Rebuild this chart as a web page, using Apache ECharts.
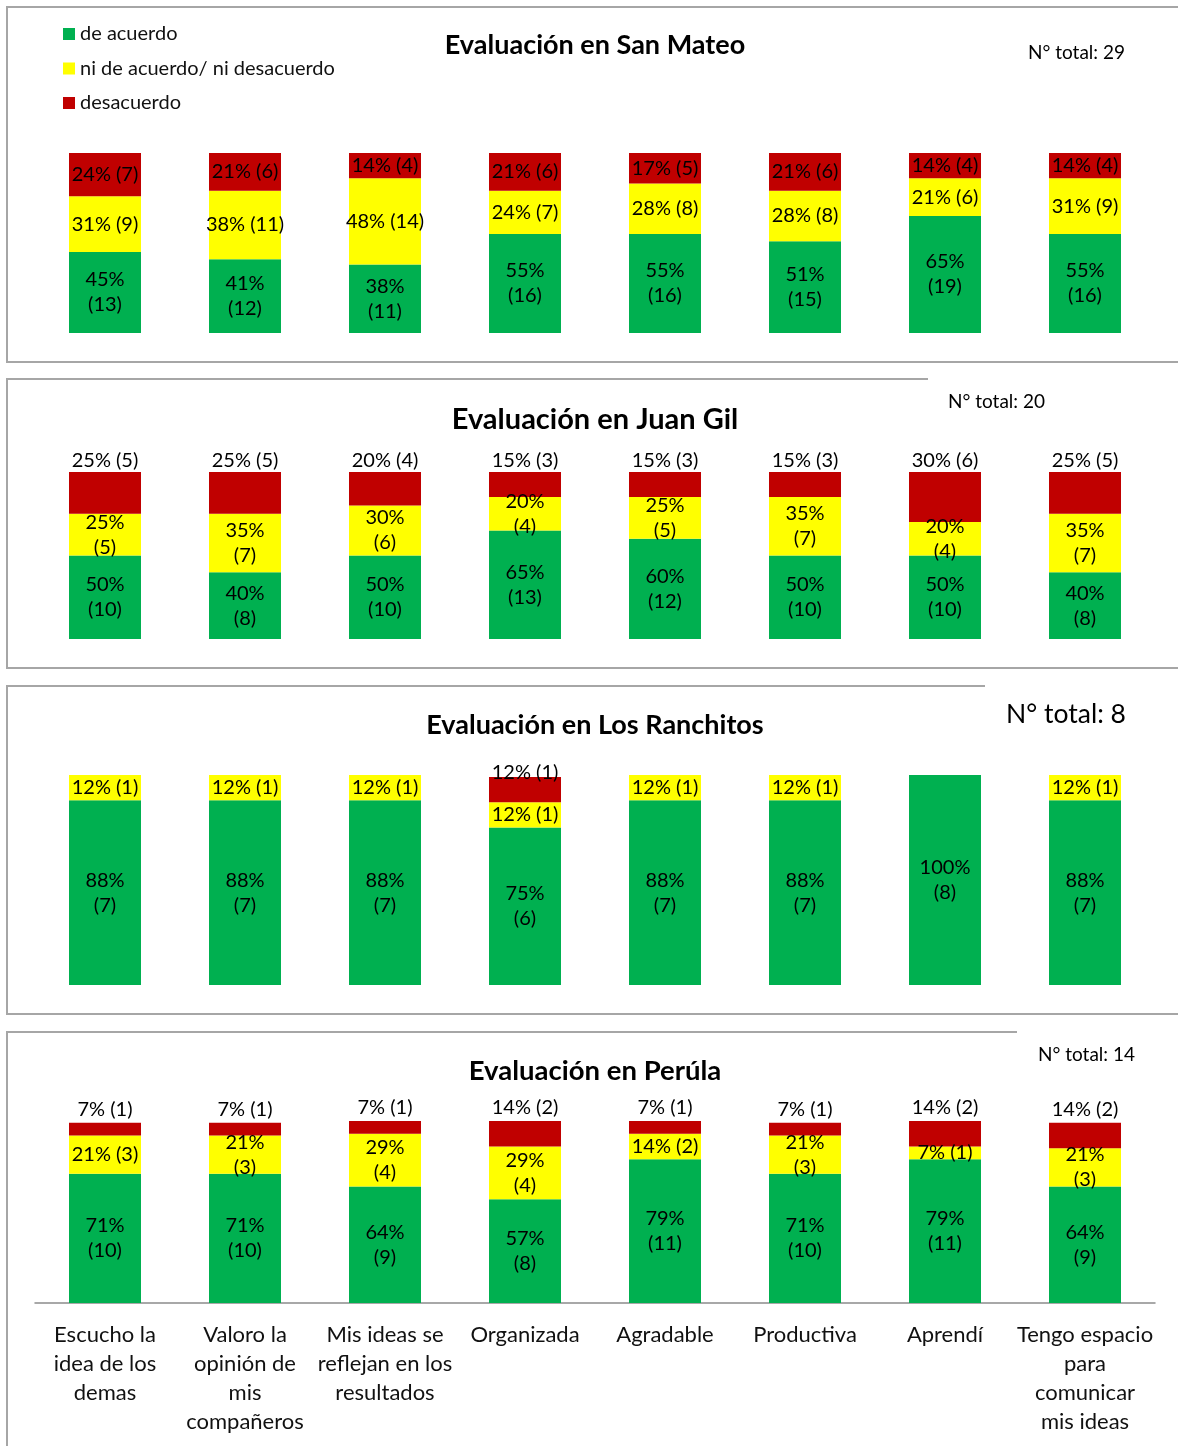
<!DOCTYPE html>
<html>
<head>
<meta charset="utf-8">
<script src="https://cdn.jsdelivr.net/npm/echarts@6/dist/echarts.min.js"></script>
<style>
  html, body { margin: 0; padding: 0; background: #fff; }
  #chart { width: 1178px; height: 1446px; }
</style>
</head>
<body>
<div id="chart"></div>
<script>
// categorias (solo se muestran en el ultimo panel)
const categories = [
  'Escucho la\nidea de los\ndemas',
  'Valoro la\nopinión de\nmis\ncompañeros',
  'Mis ideas se\nreflejan en los\nresultados',
  'Organizada',
  'Agradable',
  'Productiva',
  'Aprendí',
  'Tengo espacio\npara\ncomunicar\nmis ideas'
]
const seriesNames = ['de acuerdo', 'ni de acuerdo/ ni desacuerdo', 'desacuerdo']
const colors = ['#00B050', '#FFFF00', '#C00000']

// San Mateo: porcentaje y numero (de acuerdo / ni / desacuerdo)
const sanMateoPct = [
  [45, 41, 38, 55, 55, 51, 65, 55],
  [31, 38, 48, 24, 28, 28, 21, 31],
  [24, 21, 14, 21, 17, 21, 14, 14]
]
const sanMateoN = [
  [13, 12, 11, 16, 16, 15, 19, 16],
  [9, 11, 14, 7, 8, 8, 6, 9],
  [7, 6, 4, 6, 5, 6, 4, 4]
]

// Juan Gil
const juanGilPct = [
  [50, 40, 50, 65, 60, 50, 50, 40],
  [25, 35, 30, 20, 25, 35, 20, 35],
  [25, 25, 20, 15, 15, 15, 30, 25]
]
const juanGilN = [
  [10, 8, 10, 13, 12, 10, 10, 8],
  [5, 7, 6, 4, 5, 7, 4, 7],
  [5, 5, 4, 3, 3, 3, 6, 5]
]

// Los Ranchitos
const ranchitosPct = [
  [88, 88, 88, 75, 88, 88, 100, 88],
  [12, 12, 12, 12, 12, 12, 0, 12],
  [0, 0, 0, 12, 0, 0, 0, 0]
]
const ranchitosN = [
  [7, 7, 7, 6, 7, 7, 8, 7],
  [1, 1, 1, 1, 1, 1, 0, 1],
  [0, 0, 0, 1, 0, 0, 0, 0]
]

// Perúla
const perulaPct = [
  [71, 71, 64, 57, 79, 71, 79, 64],
  [21, 21, 29, 29, 14, 21, 7, 21],
  [7, 7, 7, 14, 7, 7, 14, 14]
]
const perulaN = [
  [10, 10, 9, 8, 11, 10, 11, 9],
  [3, 3, 4, 4, 2, 3, 1, 3],
  [1, 1, 1, 2, 1, 1, 2, 2]
]

const FONT = 'Lato, "Open Sans", sans-serif'

// configuracion de cada panel
const panels = [
  { title: 'Evaluación en San Mateo', titleY: 45, titleSize: 27,
    total: 'N° total: 29', totalX: 1028, totalY: 53, totalSize: 19,
    top: 153, height: 180, pct: sanMateoPct, n: sanMateoN,
    yellowWrap: [], redPos: 'inside', redDist: 0 },
  { title: 'Evaluación en Juan Gil', titleY: 420, titleSize: 29,
    total: 'N° total: 20', totalX: 948, totalY: 402, totalSize: 19,
    top: 472, height: 167, pct: juanGilPct, n: juanGilN,
    yellowWrap: [0, 1, 2, 3, 4, 5, 6, 7], redPos: 'top', redDist: -1 },
  { title: 'Evaluación en Los Ranchitos', titleY: 725, titleSize: 27,
    total: 'N° total: 8', totalX: 1006, totalY: 714, totalSize: 26.5,
    top: 775, height: 210, pct: ranchitosPct, n: ranchitosN,
    yellowWrap: [], redPos: 'top', redDist: -8 },
  { title: 'Evaluación en Perúla', titleY: 1071, titleSize: 27.5,
    total: 'N° total: 14', totalX: 1038, totalY: 1055, totalSize: 19,
    top: 1121, height: 182, pct: perulaPct, n: perulaN,
    yellowWrap: [1, 2, 3, 5, 7], redPos: 'top', redDist: 1 }
]

const grid = [], xAxis = [], yAxis = [], series = [], graphic = []

panels.forEach((p, i) => {
  const last = i === panels.length - 1
  grid.push({ left: 35, width: 1120, top: p.top, height: p.height })
  xAxis.push({
    type: 'category', gridIndex: i, data: categories,
    axisLine: { show: last, lineStyle: { color: '#8c8c8c', width: 1.5 } },
    axisTick: { show: false },
    axisLabel: {
      show: last, interval: 0, margin: 17, color: '#111',
      fontSize: 22, lineHeight: 29, fontFamily: FONT
    }
  })
  yAxis.push({ type: 'value', gridIndex: i, min: 0, max: 100, show: false, splitLine: { show: false } })

  seriesNames.forEach((name, s) => {
    let position = 'inside', distance = 5
    if (s === 2) { position = p.redPos; distance = p.redDist }
    series.push({
      name: name,
      type: 'bar',
      stack: 'panel' + i,
      xAxisIndex: i,
      yAxisIndex: i,
      barWidth: 72,
      data: p.pct[s],
      itemStyle: { color: colors[s] },
      label: {
        show: true,
        position: position,
        distance: distance,
        color: '#000',
        fontSize: 20,
        lineHeight: 25,
        fontFamily: FONT,
        formatter: (params) => {
          const k = params.dataIndex
          const v = p.pct[s][k]
          if (!v) return ''
          const wrap = s === 0 || (s === 1 && p.yellowWrap.includes(k))
          return v + '%' + (wrap ? '\n' : ' ') + '(' + p.n[s][k] + ')'
        }
      }
    })
  })

  graphic.push({
    type: 'text', x: 595, y: p.titleY,
    style: { text: p.title, font: 'bold ' + p.titleSize + 'px ' + FONT, fill: '#000',
      textAlign: 'center', textVerticalAlign: 'middle' }
  })
  graphic.push({
    type: 'text', x: p.totalX, y: p.totalY,
    style: { text: p.total, font: p.totalSize + 'px ' + FONT, fill: '#000',
      textAlign: 'left', textVerticalAlign: 'middle' }
  })
})

// bordes grises de cada panel
const borders = [
  [[1178, 7], [7, 7], [7, 362], [1178, 362]],
  [[928, 379], [7, 379], [7, 668], [1178, 668]],
  [[985, 686], [7, 686], [7, 1014], [1178, 1014]],
  [[1017, 1032], [7, 1032], [7, 1446]]
]
borders.forEach(pts => {
  graphic.push({
    type: 'polyline', silent: true,
    shape: { points: pts },
    style: { stroke: '#a6a6a6', lineWidth: 2, fill: null }
  })
})

const chart = echarts.init(document.getElementById('chart'))
chart.setOption({
  animation: false,
  legend: {
    orient: 'vertical', left: 63, top: 24, padding: 0,
    itemWidth: 12, itemHeight: 12, itemGap: 14.5, icon: 'rect',
    data: seriesNames,
    textStyle: { fontSize: 20, lineHeight: 20, color: '#111', fontFamily: FONT }
  },
  grid: grid,
  xAxis: xAxis,
  yAxis: yAxis,
  series: series,
  graphic: graphic
})
</script>
</body>
</html>
